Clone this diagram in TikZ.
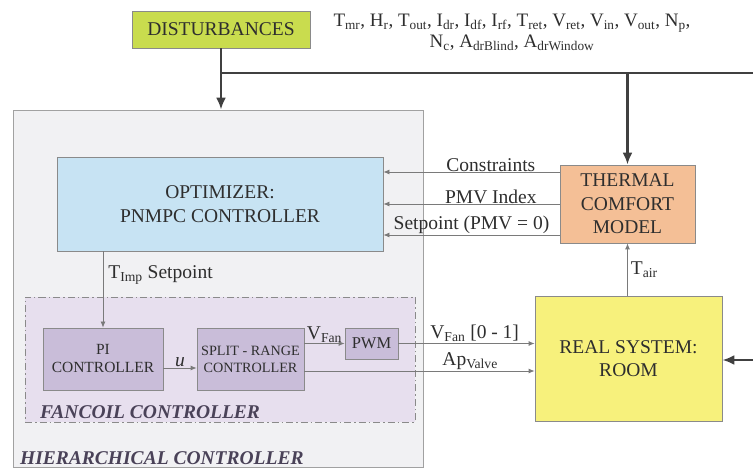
\documentclass[tikz,border=0pt]{standalone}
\usepackage{fontspec}
\setmainfont{Liberation Serif}
\usetikzlibrary{arrows.meta}
\definecolor{distfill}{HTML}{C9DC4E}
\definecolor{hierfill}{HTML}{F1F1F3}
\definecolor{optfill}{HTML}{C7E3F3}
\definecolor{thermfill}{HTML}{F4BF96}
\definecolor{roomfill}{HTML}{F7F17C}
\definecolor{fanfill}{HTML}{E7DFEE}
\definecolor{ctrlfill}{HTML}{C9BDD9}
\definecolor{boxline}{HTML}{8A8A8A}
\definecolor{heavy}{HTML}{404040}
\definecolor{thinline}{HTML}{7A7A7A}
\definecolor{txt}{HTML}{2E2E2E}
\definecolor{grouptxt}{HTML}{4A4258}
\newcommand{\lo}[1]{\textsubscript{#1}}
\begin{document}
\begin{tikzpicture}[x=1pt,y=-1pt,
	box/.style={draw=boxline, line width=0.8pt, align=center, text=txt, inner sep=0pt},
	big/.style={font=\fontsize{19.5}{23.5}\selectfont},
	small/.style={font=\fontsize{15.5}{18}\selectfont},
	lbl/.style={text=txt, font=\fontsize{19.5}{23.5}\selectfont},
	group/.style={text=grouptxt, anchor=west, inner sep=0pt, font=\fontsize{19.5}{22}\bfseries\itshape},
	heavyarrow/.style={draw=heavy, line width=2.6pt, -{Latex[length=12pt,width=10pt]}},
	heavyline/.style={draw=heavy, line width=2.6pt},
	thinarrow/.style={draw=thinline, line width=0.8pt, -{Latex[length=6pt,width=5pt]}}]
	\useasboundingbox (0,0) rectangle (753,470);
	% outer boxes
	\node[box, fill=hierfill, draw=boxline!80, minimum width=410pt, minimum height=357pt] (hier) at (218,288.5) {};
	\node[box, fill=fanfill, dash pattern=on 7pt off 3pt on 1.5pt off 3pt, minimum width=390pt, minimum height=125pt] (fan) at (220,359.5) {};
	\node[group] (hierlbl) at (20,458) {HIERARCHICAL CONTROLLER};
	\node[group] (fanlbl) at (40,412) {FANCOIL CONTROLLER};
	% blocks
	\node[box, big, fill=distfill, minimum width=178pt, minimum height=37pt] (dist) at (221,29.5) {DISTURBANCES};
	\node[text=txt, align=center, font=\fontsize{19}{21}\selectfont] (distlist) at (512,32.5)
		{T\lo{mr}, H\lo{r}, T\lo{out}, I\lo{dr}, I\lo{df}, I\lo{rf}, T\lo{ret}, V\lo{ret}, V\lo{in}, V\lo{out}, N\lo{p},\\
		 N\lo{c}, A\lo{drBlind}, A\lo{drWindow}};
	\node[box, big, fill=optfill, minimum width=326pt, minimum height=94pt] (opt) at (220,204) {OPTIMIZER:\\PNMPC CONTROLLER};
	\node[box, big, fill=thermfill, minimum width=135pt, minimum height=78pt] (therm) at (627.5,204) {THERMAL\\COMFORT\\MODEL};
	\node[box, big, fill=roomfill, minimum width=187pt, minimum height=125pt] (room) at (628.5,358.5) {REAL SYSTEM:\\ROOM};
	\node[box, small, fill=ctrlfill, minimum width=120pt, minimum height=62pt] (pi) at (103,359) {PI\\CONTROLLER};
	\node[box, fill=ctrlfill, minimum width=107pt, minimum height=62pt, font=\fontsize{14.2}{17}\selectfont] (split) at (250.5,359) {SPLIT - RANGE\\CONTROLLER};
	\node[box, fill=ctrlfill, minimum width=53pt, minimum height=31pt, font=\fontsize{16.5}{19}\selectfont] (pwm) at (371.5,343.5) {PWM};
	% disturbance bus
	\coordinate (bus) at (221,73);
	\coordinate (busend) at (753,73);
	\coordinate (roomin) at (753,360);
	\draw[heavyarrow] (dist.south) -- (dist.south |- hier.north);
	\draw[heavyline] (bus) -- (busend);
	\draw[heavyarrow] (therm.north |- bus) -- (therm.north);
	\draw[heavyarrow] (roomin) -- (room.east |- roomin);
	% comfort model to optimizer
	\draw[thinarrow] (therm.west |- 0,172) -- (opt.east |- 0,172) node[lbl, pos=0.39, above=0pt, inner sep=0pt] {Constraints};
	\draw[thinarrow] (therm.west |- 0,204) -- (opt.east |- 0,204) node[lbl, pos=0.39, above=0pt, inner sep=0pt] {PMV Index};
	\draw[thinarrow] (therm.west |- 0,235) -- (opt.east |- 0,235) node[lbl, pos=0.5, above=1pt, inner sep=0pt] {Setpoint (PMV = 0)};
	\draw[thinarrow] (room.north -| therm.south) -- (therm.south) node[lbl, midway, right=3pt, inner sep=0pt] {T\lo{air}};
	% fancoil loop
	\draw[thinarrow] (pi.north |- opt.south) -- (pi.north) node[lbl, pos=0.31, right=5pt, inner sep=0pt] {T\lo{Imp} Setpoint};
	\draw[thinarrow] (pi.east |- 0,368) -- (split.west |- 0,368) node[lbl, midway, above=1pt, inner sep=0pt] {\textit{u}};
	\draw[thinarrow] (split.east |- pwm) -- (pwm.west) node[lbl, midway, above=0pt, inner sep=0pt] {V\lo{Fan}};
	\draw[thinarrow] (pwm.east) -- (pwm.east -| room.west) node[lbl, pos=0.56, above=1pt, inner sep=0pt] {V\lo{Fan} [0 - 1]};
	\draw[thinarrow] (split.east |- 0,371) -- (room.west |- 0,371) node[lbl, pos=0.72, above=1pt, inner sep=0pt] {Ap\lo{Valve}};
\end{tikzpicture}
\end{document}
